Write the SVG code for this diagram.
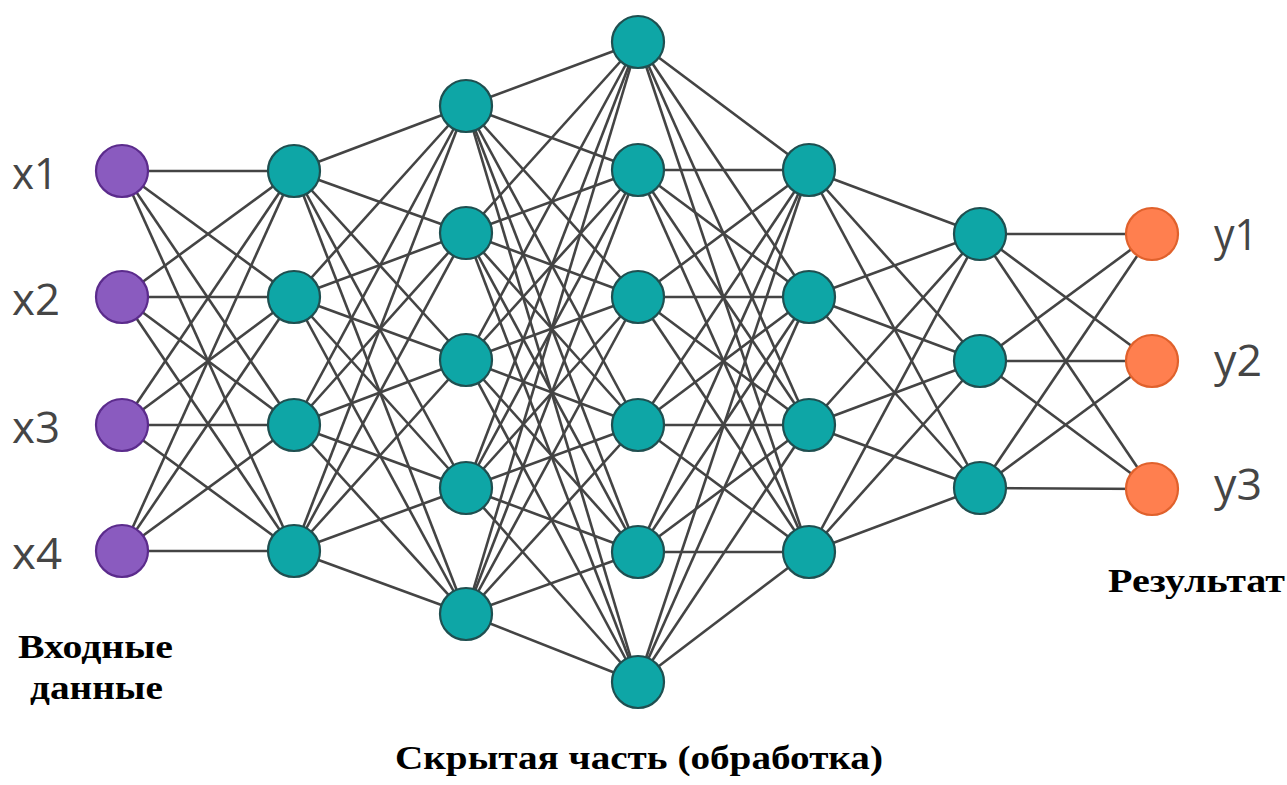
<svg xmlns="http://www.w3.org/2000/svg" width="1287" height="785" viewBox="0 0 1287 785">
<style>
.e line{stroke:#444;stroke-width:2.6}
.in{fill:#8a5bbf;stroke:#5b2b8c;stroke-width:2.2}
.hid{fill:#0ea6a6;stroke:#1f4f50;stroke-width:2.2}
.out{fill:#ff7f4f;stroke:#e0612c;stroke-width:2.2}
.lab{font-family:"Open Sans","Noto Sans",sans-serif;font-size:43px;fill:#454545}
.cap{font-family:"Liberation Serif","Times New Roman",serif;font-weight:bold;font-size:34px;fill:#000}
</style>
<rect width="1287" height="785" fill="#fff"/>
<g id="connectors" class="e">
<line x1="122" y1="171" x2="294" y2="171"/><line x1="122" y1="171" x2="294" y2="297"/><line x1="122" y1="171" x2="294" y2="425"/><line x1="122" y1="171" x2="294" y2="551"/>
<line x1="122" y1="297" x2="294" y2="171"/><line x1="122" y1="297" x2="294" y2="297"/><line x1="122" y1="297" x2="294" y2="425"/><line x1="122" y1="297" x2="294" y2="551"/>
<line x1="122" y1="425" x2="294" y2="171"/><line x1="122" y1="425" x2="294" y2="297"/><line x1="122" y1="425" x2="294" y2="425"/><line x1="122" y1="425" x2="294" y2="551"/>
<line x1="122" y1="551" x2="294" y2="171"/><line x1="122" y1="551" x2="294" y2="297"/><line x1="122" y1="551" x2="294" y2="425"/><line x1="122" y1="551" x2="294" y2="551"/>

<line x1="294" y1="171" x2="466" y2="106"/><line x1="294" y1="171" x2="466" y2="233"/><line x1="294" y1="171" x2="466" y2="360"/><line x1="294" y1="171" x2="466" y2="488"/><line x1="294" y1="171" x2="466" y2="614"/>
<line x1="294" y1="297" x2="466" y2="106"/><line x1="294" y1="297" x2="466" y2="233"/><line x1="294" y1="297" x2="466" y2="360"/><line x1="294" y1="297" x2="466" y2="488"/><line x1="294" y1="297" x2="466" y2="614"/>
<line x1="294" y1="425" x2="466" y2="106"/><line x1="294" y1="425" x2="466" y2="233"/><line x1="294" y1="425" x2="466" y2="360"/><line x1="294" y1="425" x2="466" y2="488"/><line x1="294" y1="425" x2="466" y2="614"/>
<line x1="294" y1="551" x2="466" y2="106"/><line x1="294" y1="551" x2="466" y2="233"/><line x1="294" y1="551" x2="466" y2="360"/><line x1="294" y1="551" x2="466" y2="488"/><line x1="294" y1="551" x2="466" y2="614"/>

<line x1="466" y1="106" x2="638" y2="42"/><line x1="466" y1="106" x2="638" y2="170"/><line x1="466" y1="106" x2="638" y2="297"/><line x1="466" y1="106" x2="638" y2="425"/><line x1="466" y1="106" x2="638" y2="552"/><line x1="466" y1="106" x2="638" y2="682"/>
<line x1="466" y1="233" x2="638" y2="42"/><line x1="466" y1="233" x2="638" y2="170"/><line x1="466" y1="233" x2="638" y2="297"/><line x1="466" y1="233" x2="638" y2="425"/><line x1="466" y1="233" x2="638" y2="552"/><line x1="466" y1="233" x2="638" y2="682"/>
<line x1="466" y1="360" x2="638" y2="42"/><line x1="466" y1="360" x2="638" y2="170"/><line x1="466" y1="360" x2="638" y2="297"/><line x1="466" y1="360" x2="638" y2="425"/><line x1="466" y1="360" x2="638" y2="552"/><line x1="466" y1="360" x2="638" y2="682"/>
<line x1="466" y1="488" x2="638" y2="42"/><line x1="466" y1="488" x2="638" y2="170"/><line x1="466" y1="488" x2="638" y2="297"/><line x1="466" y1="488" x2="638" y2="425"/><line x1="466" y1="488" x2="638" y2="552"/><line x1="466" y1="488" x2="638" y2="682"/>
<line x1="466" y1="614" x2="638" y2="42"/><line x1="466" y1="614" x2="638" y2="170"/><line x1="466" y1="614" x2="638" y2="297"/><line x1="466" y1="614" x2="638" y2="425"/><line x1="466" y1="614" x2="638" y2="552"/><line x1="466" y1="614" x2="638" y2="682"/>

<line x1="638" y1="42" x2="809" y2="170"/><line x1="638" y1="42" x2="809" y2="297"/><line x1="638" y1="42" x2="809" y2="425"/><line x1="638" y1="42" x2="809" y2="552"/>
<line x1="638" y1="170" x2="809" y2="170"/><line x1="638" y1="170" x2="809" y2="297"/><line x1="638" y1="170" x2="809" y2="425"/><line x1="638" y1="170" x2="809" y2="552"/>
<line x1="638" y1="297" x2="809" y2="170"/><line x1="638" y1="297" x2="809" y2="297"/><line x1="638" y1="297" x2="809" y2="425"/><line x1="638" y1="297" x2="809" y2="552"/>
<line x1="638" y1="425" x2="809" y2="170"/><line x1="638" y1="425" x2="809" y2="297"/><line x1="638" y1="425" x2="809" y2="425"/><line x1="638" y1="425" x2="809" y2="552"/>
<line x1="638" y1="552" x2="809" y2="170"/><line x1="638" y1="552" x2="809" y2="297"/><line x1="638" y1="552" x2="809" y2="425"/><line x1="638" y1="552" x2="809" y2="552"/>
<line x1="638" y1="682" x2="809" y2="170"/><line x1="638" y1="682" x2="809" y2="297"/><line x1="638" y1="682" x2="809" y2="425"/><line x1="638" y1="682" x2="809" y2="552"/>

<line x1="809" y1="170" x2="980" y2="234"/><line x1="809" y1="170" x2="980" y2="361"/><line x1="809" y1="170" x2="980" y2="488"/>
<line x1="809" y1="297" x2="980" y2="234"/><line x1="809" y1="297" x2="980" y2="361"/><line x1="809" y1="297" x2="980" y2="488"/>
<line x1="809" y1="425" x2="980" y2="234"/><line x1="809" y1="425" x2="980" y2="361"/><line x1="809" y1="425" x2="980" y2="488"/>
<line x1="809" y1="552" x2="980" y2="234"/><line x1="809" y1="552" x2="980" y2="361"/><line x1="809" y1="552" x2="980" y2="488"/>

<line x1="980" y1="234" x2="1152" y2="234"/><line x1="980" y1="234" x2="1152" y2="361"/><line x1="980" y1="234" x2="1152" y2="489"/>
<line x1="980" y1="361" x2="1152" y2="234"/><line x1="980" y1="361" x2="1152" y2="361"/><line x1="980" y1="361" x2="1152" y2="489"/>
<line x1="980" y1="488" x2="1152" y2="234"/><line x1="980" y1="488" x2="1152" y2="361"/><line x1="980" y1="488" x2="1152" y2="489"/>
</g>

<g id="input-layer">
<g id="x1"><circle class="in" cx="122" cy="171" r="26"/><text class="lab" x="12" y="189" textLength="46" lengthAdjust="spacingAndGlyphs">x1</text></g>
<g id="x2"><circle class="in" cx="122" cy="297" r="26"/><text class="lab" x="12" y="315" textLength="48" lengthAdjust="spacingAndGlyphs">x2</text></g>
<g id="x3"><circle class="in" cx="122" cy="425" r="26"/><text class="lab" x="12" y="443" textLength="48" lengthAdjust="spacingAndGlyphs">x3</text></g>
<g id="x4"><circle class="in" cx="122" cy="551" r="26"/><text class="lab" x="12" y="569" textLength="50" lengthAdjust="spacingAndGlyphs">x4</text></g>
</g>

<g id="hidden-1">
<circle id="h1-1" class="hid" cx="294" cy="171" r="26"/>
<circle id="h1-2" class="hid" cx="294" cy="297" r="26"/>
<circle id="h1-3" class="hid" cx="294" cy="425" r="26"/>
<circle id="h1-4" class="hid" cx="294" cy="551" r="26"/>
</g>
<g id="hidden-2">
<circle id="h2-1" class="hid" cx="466" cy="106" r="26"/>
<circle id="h2-2" class="hid" cx="466" cy="233" r="26"/>
<circle id="h2-3" class="hid" cx="466" cy="360" r="26"/>
<circle id="h2-4" class="hid" cx="466" cy="488" r="26"/>
<circle id="h2-5" class="hid" cx="466" cy="614" r="26"/>
</g>
<g id="hidden-3">
<circle id="h3-1" class="hid" cx="638" cy="42" r="26"/>
<circle id="h3-2" class="hid" cx="638" cy="170" r="26"/>
<circle id="h3-3" class="hid" cx="638" cy="297" r="26"/>
<circle id="h3-4" class="hid" cx="638" cy="425" r="26"/>
<circle id="h3-5" class="hid" cx="638" cy="552" r="26"/>
<circle id="h3-6" class="hid" cx="638" cy="682" r="26"/>
</g>
<g id="hidden-4">
<circle id="h4-1" class="hid" cx="809" cy="170" r="26"/>
<circle id="h4-2" class="hid" cx="809" cy="297" r="26"/>
<circle id="h4-3" class="hid" cx="809" cy="425" r="26"/>
<circle id="h4-4" class="hid" cx="809" cy="552" r="26"/>
</g>
<g id="hidden-5">
<circle id="h5-1" class="hid" cx="980" cy="234" r="26"/>
<circle id="h5-2" class="hid" cx="980" cy="361" r="26"/>
<circle id="h5-3" class="hid" cx="980" cy="488" r="26"/>
</g>

<g id="output-layer">
<g id="y1"><circle class="out" cx="1152" cy="234" r="26"/><text class="lab" x="1214" y="250" textLength="44" lengthAdjust="spacingAndGlyphs">y1</text></g>
<g id="y2"><circle class="out" cx="1152" cy="361" r="26"/><text class="lab" x="1214" y="376" textLength="48" lengthAdjust="spacingAndGlyphs">y2</text></g>
<g id="y3"><circle class="out" cx="1152" cy="489" r="26"/><text class="lab" x="1214" y="500" textLength="48" lengthAdjust="spacingAndGlyphs">y3</text></g>
</g>

<g id="captions">
<text class="cap" x="18" y="658" textLength="155" lengthAdjust="spacingAndGlyphs">Входные</text>
<text class="cap" x="30" y="699" textLength="133" lengthAdjust="spacingAndGlyphs">данные</text>
<text class="cap" x="395" y="769" textLength="488" lengthAdjust="spacingAndGlyphs">Скрытая часть (обработка)</text>
<text class="cap" x="1108" y="592" textLength="177" lengthAdjust="spacingAndGlyphs">Результат</text>
</g>
</svg>
